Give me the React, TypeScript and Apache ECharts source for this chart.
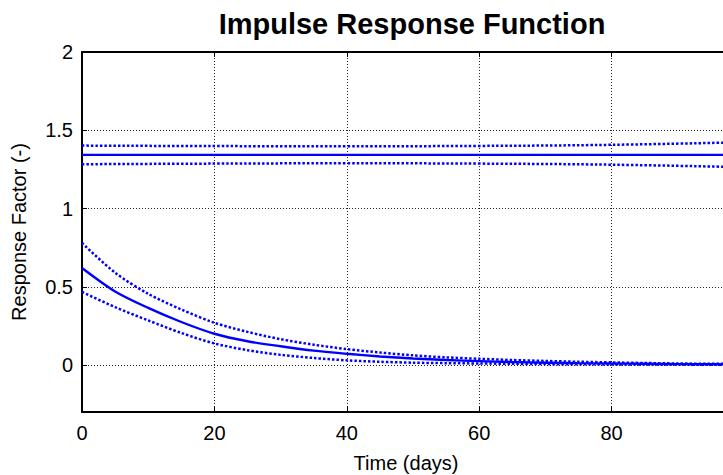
import React, { useEffect, useRef } from 'react';
import * as echarts from 'echarts';

const titleText = 'Impulse Response Function';
const xName = 'Time (days)';
const yName = 'Response Factor (-)';

const xTicks = [0, 20, 40, 60, 80, 100];
const xTickLabels = [0, 20, 40, 60, 80];
const yTicks = [0, 0.5, 1, 1.5, 2];

const days = [0, 5, 10, 15, 20, 25, 30, 35, 40, 45, 50, 55, 60, 65, 70, 75, 80, 85, 90, 95, 100];
const irf = [0.62, 0.47, 0.365, 0.275, 0.2, 0.152, 0.12, 0.092, 0.072, 0.055, 0.042, 0.032, 0.025, 0.019, 0.015, 0.012, 0.01, 0.008, 0.006, 0.005, 0.004];
const irfUpper = [0.78, 0.59, 0.455, 0.355, 0.27, 0.212, 0.165, 0.13, 0.102, 0.08, 0.062, 0.049, 0.04, 0.032, 0.026, 0.021, 0.017, 0.013, 0.01, 0.008, 0.007];
const irfLower = [0.467, 0.37, 0.285, 0.205, 0.138, 0.095, 0.065, 0.045, 0.03, 0.021, 0.015, 0.012, 0.01, 0.008, 0.006, 0.005, 0.004, 0.003, 0.003, 0.002, 0.002];

const bandDays = [0, 20, 40, 60, 80, 100];
const gain = [1.343, 1.343, 1.343, 1.343, 1.343, 1.343];
const gainUpper = [1.402, 1.399, 1.398, 1.4, 1.407, 1.424];
const gainLower = [1.283, 1.287, 1.289, 1.287, 1.28, 1.264];

const FONT = '"Liberation Sans", Arial, Helvetica, sans-serif';
const BLUE = '#0000ff';

function pair(xs: number[], ys: number[]) {
  return xs.map((x, i) => [x, ys[i]]);
}

export default function App() {
  const ref = useRef<HTMLDivElement>(null);
  useEffect(() => {
    if (!ref.current) return;
    const chart = echarts.init(ref.current, null, { renderer: 'svg' });
    const solidStyle = { color: BLUE, width: 2.4 };
    const dotStyle = { color: BLUE, width: 2.5, type: [2.5, 2], cap: 'butt' };
    const mk = (name: string, data: number[][], ls: any, smooth: number) => ({
      name,
      type: 'line',
      data,
      symbol: 'none',
      showSymbol: false,
      smooth,
      lineStyle: ls,
      itemStyle: { color: BLUE },
      silent: true,
      z: 3,
    });
    const gridLine = { show: true, lineStyle: { color: '#222', width: 1, type: [1, 2] } };
    chart.setOption({
      animation: false,
      backgroundColor: '#ffffff',
      textStyle: { fontFamily: FONT },
      grid: { left: 82, top: 52, right: 16, bottom: 63, containLabel: false },
      xAxis: [
        {
          type: 'value',
          min: 0,
          max: 100,
          interval: 20,
          position: 'bottom',
          axisLine: { show: true, onZero: false, lineStyle: { color: '#000', width: 2 } },
          axisTick: { show: true, inside: true, length: 5, lineStyle: { color: '#000', width: 1 }, customValues: xTicks },
          axisLabel: { show: true, customValues: xTickLabels, color: '#000', fontSize: 20, fontFamily: FONT, margin: 11 },
          splitLine: gridLine,
        },
        {
          type: 'value',
          min: 0,
          max: 100,
          interval: 20,
          position: 'top',
          axisLine: { show: true, onZero: false, lineStyle: { color: '#000', width: 2 } },
          axisTick: { show: true, inside: true, length: 5, lineStyle: { color: '#000', width: 1 } },
          axisLabel: { show: false },
          splitLine: { show: false },
        },
      ],
      yAxis: {
        type: 'value',
        min: -0.3,
        max: 2,
        axisLine: { show: true, onZero: false, lineStyle: { color: '#000', width: 2 } },
        axisTick: { show: true, inside: true, length: 5, lineStyle: { color: '#000', width: 1 }, customValues: yTicks },
        axisLabel: { show: true, customValues: yTicks, color: '#000', fontSize: 20, fontFamily: FONT, margin: 9, formatter: (v: number) => String(v) },
        splitLine: gridLine,
      },
      graphic: [
        {
          type: 'text',
          x: 412,
          y: 24,
          style: { text: titleText, fill: '#000', font: 'bold 29px ' + FONT, textAlign: 'center', textVerticalAlign: 'middle' },
        },
        {
          type: 'text',
          x: 406,
          y: 463,
          style: { text: xName, fill: '#000', font: '20px ' + FONT, textAlign: 'center', textVerticalAlign: 'middle' },
        },
        {
          type: 'text',
          x: 19,
          y: 232,
          rotation: Math.PI / 2,
          style: { text: yName, fill: '#000', font: '20px ' + FONT, textAlign: 'center', textVerticalAlign: 'middle' },
        },
      ],
      series: [
        mk('Gain', pair(bandDays, gain), solidStyle, 0),
        mk('Gain upper', pair(bandDays, gainUpper), dotStyle, 0.4),
        mk('Gain lower', pair(bandDays, gainLower), dotStyle, 0.4),
        mk('IRF', pair(days, irf), solidStyle, 0.3),
        mk('IRF upper', pair(days, irfUpper), dotStyle, 0.3),
        mk('IRF lower', pair(days, irfLower), dotStyle, 0.3),
      ],
    });
    return () => chart.dispose();
  }, []);
  return (
    <div
      ref={ref}
      style={{ position: 'fixed', left: 0, top: 0, width: 760, height: 475, background: '#fff' }}
    />
  );
}
